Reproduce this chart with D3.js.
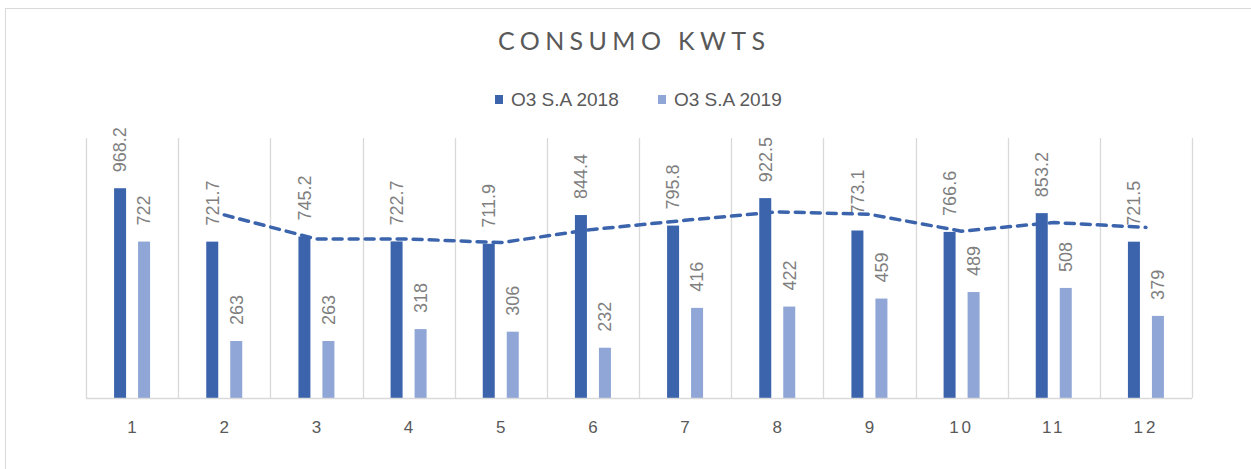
<!DOCTYPE html>
<html>
<head>
<meta charset="utf-8">
<script src="https://cdn.jsdelivr.net/npm/d3@7"></script>
<style>
  body { margin: 0; background: #fff; }
  text { font-family: "Liberation Sans", Arial, sans-serif; }
</style>
</head>
<body>
<div id="chart"></div>
<script>
const months = ["1", "2", "3", "4", "5", "6", "7", "8", "9", "10", "11", "12"];
const seriesNames = ["O3 S.A 2018", "O3 S.A 2019"];
const values2018 = [968.2, 721.7, 745.2, 722.7, 711.9, 844.4, 795.8, 922.5, 773.1, 766.6, 853.2, 721.5];
const values2019 = [722, 263, 263, 318, 306, 232, 416, 422, 459, 489, 508, 379];
// 2-period moving average trendline of 2018, as drawn (months 2..12)
const trendMonths = ["2", "3", "4", "5", "6", "7", "8", "9", "10", "11", "12"];
const trendValues = [845.0, 733.5, 734.0, 717.3, 778.2, 820.1, 859.2, 847.8, 769.9, 809.9, 787.4];

const W = 1251, H = 469;
const margin = { top: 138, right: 59, bottom: 71, left: 86 };
const colors = ["#3b64ad", "#8fa6d6"];

const svg = d3.select("#chart").append("svg")
    .attr("width", W).attr("height", H);

// chart border
svg.append("rect")
    .attr("x", 5.5).attr("y", 8.5)
    .attr("width", 1400).attr("height", 600)
    .attr("fill", "none").attr("stroke", "#d9d9d9");

const x = d3.scaleBand().domain(months)
    .range([margin.left, W - margin.right]).padding(0);
const xs = d3.scaleBand().domain(seriesNames)
    .range([-18, 18]).paddingInner(0.5);
const y = d3.scaleLinear().domain([0, 1200])
    .range([H - margin.bottom, margin.top]);

// vertical category separators
const edges = months.map(m => x(m)).concat([x(months[months.length - 1]) + x.bandwidth()]);
svg.append("g").selectAll("line").data(edges).enter().append("line")
    .attr("x1", d => Math.round(d) + 0.5).attr("x2", d => Math.round(d) + 0.5)
    .attr("y1", margin.top).attr("y2", H - margin.bottom)
    .attr("stroke", "#d9d9d9").attr("stroke-width", 1.3);

// bars
const rows = months.map((m, i) => ({ m, v: [values2018[i], values2019[i]] }));
const groups = svg.append("g").selectAll("g").data(rows).enter().append("g")
    .attr("transform", d => `translate(${x(d.m) + x.bandwidth() / 2},0)`);

groups.selectAll("rect")
    .data(d => d.v.map((v, k) => ({ k, v })))
    .enter().append("rect")
    .attr("x", d => xs(seriesNames[d.k]))
    .attr("width", xs.bandwidth())
    .attr("y", d => y(d.v))
    .attr("height", d => y(0) - y(d.v))
    .attr("fill", d => colors[d.k]);

// axis line
svg.append("line")
    .attr("x1", margin.left).attr("x2", W - margin.right)
    .attr("y1", y(0) + 0.5).attr("y2", y(0) + 0.5)
    .attr("stroke", "#d9d9d9").attr("stroke-width", 1.5);

// trendline
const line = d3.line()
    .x(d => x(d[0]) + x.bandwidth() / 2)
    .y(d => y(d[1]));
svg.append("path")
    .datum(trendMonths.map((m, i) => [m, trendValues[i]]))
    .attr("d", line)
    .attr("fill", "none")
    .attr("stroke", "#3b64ad")
    .attr("stroke-width", 3.5)
    .attr("stroke-dasharray", "9,7")
    .attr("stroke-linecap", "round")
    .attr("stroke-linejoin", "round");

// data labels
groups.selectAll("text.lbl")
    .data(d => d.v.map((v, k) => ({ k, v })))
    .enter().append("text")
    .attr("class", "lbl")
    .attr("transform", d => `translate(${xs(seriesNames[d.k]) + xs.bandwidth() / 2},${y(d.v) - 16}) rotate(-90)`)
    .attr("dy", "0.35em")
    .attr("text-anchor", "start")
    .attr("fill", "#7f7f7f")
    .attr("font-size", 18)
    .text(d => d.v);

// category axis labels
const xAxis = d3.axisBottom(x).tickSize(0).tickPadding(0);
const ax = svg.append("g").attr("transform", `translate(0,${y(0)})`).call(xAxis);
ax.select(".domain").remove();
ax.selectAll("text")
    .attr("y", 35).attr("dy", 0)
    .attr("fill", "#595959")
    .attr("font-size", 17)
    .attr("letter-spacing", d => d.length > 1 ? 3 : 0)
    .style("font-family", "Liberation Sans, Arial, sans-serif");

// title
svg.append("text")
    .attr("x", 498).attr("y", 50)
    .attr("textLength", 267).attr("lengthAdjust", "spacing")
    .attr("fill", "#595959")
    .attr("font-size", 25)
    .style("font-family", "Lato, sans-serif")
    .style("font-weight", 400)
    .text("CONSUMO KWTS");

// legend
const legendX = [495, 658];
const legend = svg.append("g").selectAll("g").data(seriesNames).enter().append("g")
    .attr("transform", (d, i) => `translate(${legendX[i]},95)`);
legend.append("rect").attr("width", 8).attr("height", 9)
    .attr("fill", (d, i) => colors[i]);
legend.append("text").attr("x", 16).attr("y", 11)
    .attr("fill", "#595959").attr("font-size", 19)
    .text(d => d);
</script>
</body>
</html>
